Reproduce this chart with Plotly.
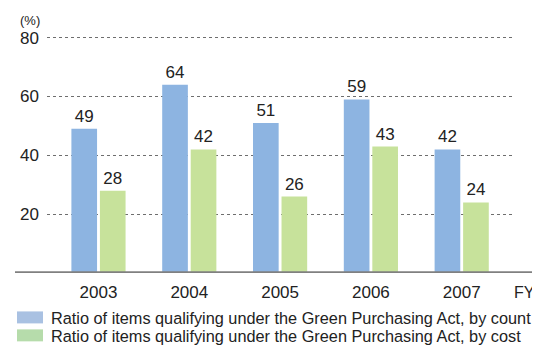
import plotly.graph_objects as go

years = ["2003", "2004", "2005", "2006", "2007"]
by_count = [49, 64, 51, 59, 42]
by_cost = [28, 42, 26, 43, 24]
names = [
    "Ratio of items qualifying under the Green Purchasing Act, by count",
    "Ratio of items qualifying under the Green Purchasing Act, by cost",
]
bar_colors = ["#8db4e1", "#c7e29b"]
swatch_colors = ["#a9c1e2", "#b6dcab"]

font = "Liberation Sans, Arial, sans-serif"
# page body has an 8px margin, so the figure is a bit smaller than the window
W, H = 532, 337
L, R, T, B = 39, 28, 22, 71.5
pw = W - L - R
ph = H - T - B


def px_x(x):
    return (x - L) / pw


def px_y(y):
    return 1 - (y - T) / ph


fig = go.Figure()
for vals, name, col in zip([by_count, by_cost], names, bar_colors):
    fig.add_trace(go.Bar(
        x=list(range(len(years))), y=vals, name=name,
        marker=dict(color=col, line=dict(width=0)),
        text=vals, textposition="outside", cliponaxis=False,
        textfont=dict(size=17, color="#222"),
        showlegend=False,
    ))

fig.update_layout(
    width=W, height=H,
    margin=dict(l=L, r=R, t=T, b=B),
    paper_bgcolor="white", plot_bgcolor="white",
    font=dict(family=font, color="#222"),
    barmode="group", bargap=0.372, bargroupgap=0.1,
)
fig.update_xaxes(
    range=[-0.567, 4.554], tickvals=list(range(len(years))), ticktext=years,
    showgrid=False, zeroline=False, showline=False,
    tickfont=dict(size=17, color="#222"), ticks="", ticklabelstandoff=7,
)
fig.update_yaxes(
    range=[0, 82.6], tickvals=[20, 40, 60, 80],
    showgrid=True, gridcolor="#6e6e6e", griddash="dot", gridwidth=1.3,
    zeroline=False, showline=False,
    tickfont=dict(size=17, color="#222"), ticks="", ticklabelstandoff=7,
)

# base axis line extending past the plot area
fig.add_shape(type="line", xref="paper", yref="y",
              x0=px_x(7), x1=px_x(W), y0=0, y1=0,
              line=dict(color="#808080", width=3.5))

fig.add_annotation(text="(%)", xref="paper", yref="paper",
                   x=px_x(10), y=px_y(12),
                   xanchor="left", yanchor="middle", showarrow=False,
                   font=dict(size=13, color="#222"))
fig.add_annotation(text="FY", xref="paper", yref="paper",
                   x=px_x(516.5), y=px_y(285),
                   xanchor="center", yanchor="middle", showarrow=False,
                   font=dict(size=16, color="#222"))

# legend drawn by hand
for i, (name, col) in enumerate(zip(names, swatch_colors)):
    yc = 310 + i * 18
    fig.add_shape(type="rect", xref="paper", yref="paper",
                  x0=px_x(9), x1=px_x(35),
                  y0=px_y(yc + 6), y1=px_y(yc - 6),
                  fillcolor=col, line=dict(width=0))
    fig.add_annotation(text=name, xref="paper", yref="paper",
                       x=px_x(41), y=px_y(yc + 0.5),
                       xanchor="left", yanchor="middle", showarrow=False,
                       font=dict(size=16.3, color="#222"))

fig.write_html("out.html")
